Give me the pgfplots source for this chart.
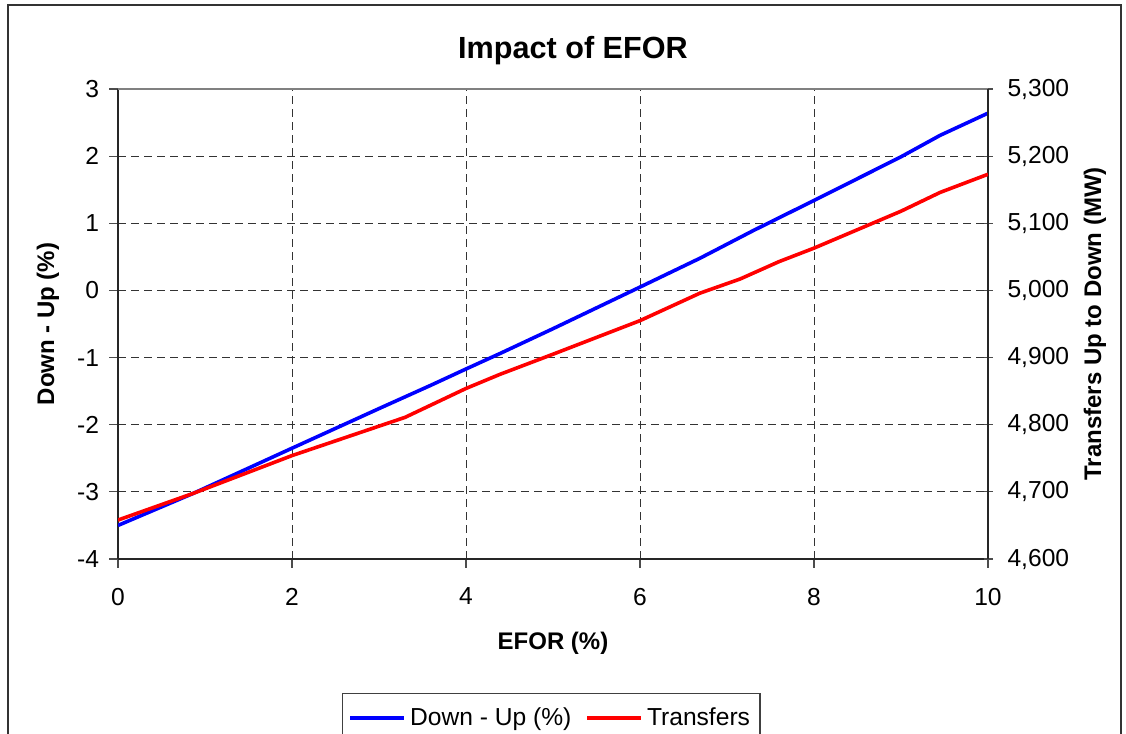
\documentclass[border=0pt]{standalone}
\usepackage{fontspec}
\setmainfont{Liberation Sans}
\usepackage{pgfplots}
\pgfplotsset{compat=1.18}

\pgfplotsset{
  efor base/.style={
    scale only axis, width=435pt, height=235pt,
    at={(59pt,87.5pt)}, anchor=south west,
    xmin=0, xmax=10,
    /pgf/number format/assume math mode=true,
    tick label style={font=\fontsize{12.3}{14}\selectfont, black},
    label style={font=\bfseries\fontsize{12}{14}\selectfont},
    major tick length=4.5pt,
  }
}

\begin{document}
\begin{tikzpicture}
% left axis: Down - Up (%)
\begin{axis}[efor base,
    ymin=-4, ymax=3, ytick={-4,-3,...,3},
    xtick={0,2,...,10},
    axis x line*=bottom, axis y line*=left,
    axis line style={black!85, line width=0.7pt},
    tick style={black!70, line width=0.6pt},
    tick align=outside,
    xticklabel shift=6.5pt, yticklabel shift=1.5pt,
    grid=major,
    grid style={black!80, line width=0.5pt, dash pattern=on 4pt off 2.5pt},
    xlabel={EFOR (\%)},
    xlabel style={at={(axis description cs:0.5,0)}, anchor=center, yshift=-42pt},
    ylabel={Down - Up (\%)},
    ylabel style={at={(axis description cs:0,0.5)}, anchor=center, yshift=35pt},
    title={Impact of EFOR},
    title style={font=\bfseries\fontsize{15.3}{17}\selectfont, at={(axis description cs:0.5,1)}, anchor=center, yshift=13pt, xshift=10pt},
  ]
  \addplot[blue, line width=1.8pt] coordinates {
    (0,-3.50) (0.87,-3.02) (2,-2.35) (3,-1.76) (3.6,-1.41) (4,-1.17) (4.39,-0.94)
    (5,-0.57) (6,0.05) (6.69,0.48) (7.3,0.89) (8,1.34) (9,1.99) (9.45,2.31) (10,2.64)
  };
\end{axis}
% right axis: Transfers
\begin{axis}[efor base,
    ymin=4600, ymax=5300, ytick={4600,4700,...,5300},
    /pgf/number format/1000 sep={,},
    axis y line*=right, axis x line*=top,
    xtick=\empty,
    x axis line style={black!50, line width=0.7pt},
    y axis line style={black!85, line width=0.7pt},
    tick style={black!70, line width=0.6pt},
    tick align=center,
    yticklabel shift=4pt,
    ylabel={Transfers Up to Down (MW)},
    ylabel style={at={(axis description cs:1,0.5)}, anchor=center, yshift=-53.5pt},
    legend columns=2,
    legend style={at={(0.498,-0.285)}, anchor=north, draw=black!75, line width=0.6pt,
      font=\fontsize{12.3}{14}\selectfont, inner xsep=3pt, inner ysep=5pt,
      /tikz/every even column/.append style={column sep=5pt}},
    legend image code/.code={\draw[#1] (0pt,0pt) -- (27pt,0pt);},
  ]
  \addlegendimage{blue, line width=1.8pt}
  \addlegendentry{Down - Up (\%)}
  \addplot[red, line width=1.8pt] coordinates {
    (0,4658) (0.87,4698) (2,4754) (3.3,4811) (4,4854) (4.39,4875) (5,4905)
    (6,4955) (6.69,4996) (7.15,5017) (7.6,5043) (8,5063) (9,5118) (9.45,5146) (10,5173)
  };
  \addlegendentry{Transfers}
\end{axis}
\draw[black!80, line width=0.8pt] (4pt,-6pt) rectangle (560.5pt,364.5pt);
\pgfresetboundingbox
\useasboundingbox (0,0) rectangle (563pt,367pt);
\end{tikzpicture}
\end{document}
